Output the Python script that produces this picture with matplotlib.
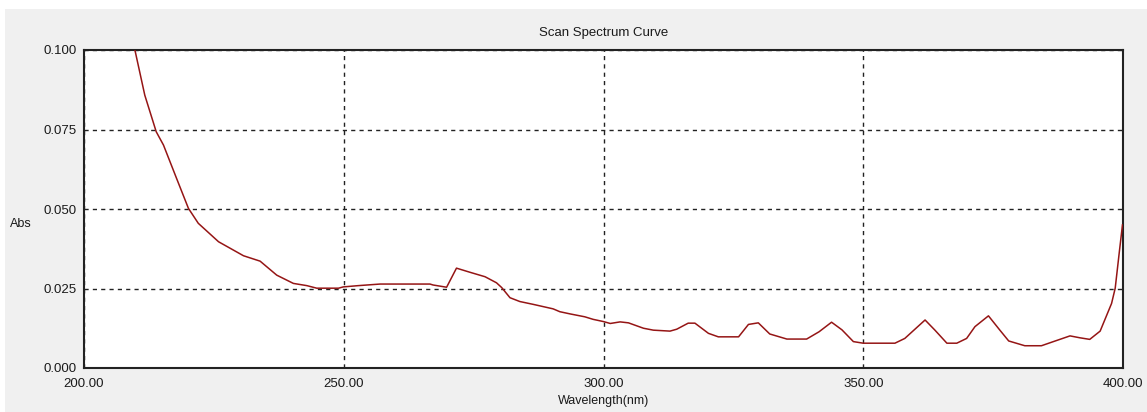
import matplotlib
matplotlib.use("Agg")
import matplotlib.pyplot as plt
from matplotlib.patches import Rectangle

# wavelength (nm) and absorbance
wavelength = [
    208.0, 209.8, 211.7, 213.9, 215.3, 217.8, 220.1, 222.0, 225.9, 230.7,
    233.9, 237.1, 240.3, 242.9, 244.8, 249.0, 249.9, 252.8, 257.0, 266.6,
    267.2, 269.8, 271.7, 274.3, 277.2, 279.4, 280.4, 282.0, 283.9, 286.5,
    290.3, 291.6, 293.6, 296.4, 298.0, 300.0, 301.3, 303.2, 304.8, 307.7,
    309.6, 312.8, 314.1, 316.3, 317.6, 320.2, 322.1, 326.0, 327.9, 329.8,
    332.0, 335.3, 339.1, 341.5, 343.9, 345.9, 348.1, 350.0, 356.1, 358.0,
    361.9, 363.8, 366.1, 368.0, 369.9, 371.5, 374.1, 376.3, 378.0, 381.1,
    384.3, 386.6, 389.8, 391.7, 393.6, 395.6, 397.8, 398.5, 399.3, 399.9,
]
absorbance = [
    0.1120, 0.1000, 0.0858, 0.0743, 0.0701, 0.0597, 0.0502, 0.0455, 0.0397, 0.0353,
    0.0336, 0.0292, 0.0266, 0.0259, 0.0251, 0.0251, 0.0255, 0.0259, 0.0264, 0.0264,
    0.0261, 0.0254, 0.0314, 0.0301, 0.0287, 0.0268, 0.0253, 0.0221, 0.0209, 0.0200,
    0.0186, 0.0177, 0.0170, 0.0161, 0.0153, 0.0146, 0.0140, 0.0145, 0.0142, 0.0125,
    0.0119, 0.0116, 0.0122, 0.0141, 0.0141, 0.0109, 0.0098, 0.0098, 0.0137, 0.0142,
    0.0107, 0.0091, 0.0091, 0.0114, 0.0144, 0.0120, 0.0083, 0.0078, 0.0078, 0.0093,
    0.0151, 0.0119, 0.0078, 0.0078, 0.0093, 0.0130, 0.0164, 0.0119, 0.0085, 0.0070,
    0.0070, 0.0083, 0.0101, 0.0095, 0.0090, 0.0116, 0.0203, 0.0251, 0.0366, 0.0450,
]

x_ticks = [200, 250, 300, 350, 400]
y_ticks = [0.0, 0.025, 0.05, 0.075, 0.1]

W, H = 1147, 412
plt.rcParams["font.family"] = ["Liberation Sans", "DejaVu Sans"]

fig = plt.figure(figsize=(W / 100, H / 100), dpi=100, facecolor="white")
# grey window panel behind the plot
fig.patches.append(Rectangle((5 / W, 0), 1 - 5 / W, 1 - 9 / H,
                             transform=fig.transFigure, facecolor="#f0f0f0",
                             edgecolor="none", zorder=-10))

ax = fig.add_axes([84 / W, 1 - 368 / H, (1123 - 84) / W, (368 - 50) / H])
ax.set_zorder(1)
ax.set_facecolor("white")
ax.plot(wavelength, absorbance, color="#951515", lw=1.1, zorder=3)

ax.set_xlim(200, 400)
ax.set_ylim(0, 0.1)
ax.set_xticks(x_ticks)
ax.set_xticklabels([f"{v:.2f}" for v in x_ticks])
ax.set_yticks(y_ticks)
ax.set_yticklabels([f"{v:.3f}" for v in y_ticks])
ax.tick_params(length=0, labelsize=9.5, colors="#1a1a1a")
ax.tick_params(axis="y", pad=5)
ax.tick_params(axis="x", pad=7)
ax.grid(True, color="#222222", linestyle=(0, (3, 3)), lw=1)
for s in ax.spines.values():
    s.set_linewidth(1.5)
    s.set_color("#222222")

fig.text(603.5 / W, 1 - 33 / H, "Scan Spectrum Curve", ha="center", va="center",
         fontsize=9.5, color="#1a1a1a")
fig.text(21 / W, 1 - 224 / H, "Abs", ha="center", va="center",
         fontsize=9, color="#1a1a1a")
fig.text(603.5 / W, 1 - 401 / H, "Wavelength(nm)", ha="center", va="center",
         fontsize=9, color="#1a1a1a")

fig.savefig("out.png", dpi=100, facecolor=fig.get_facecolor())
